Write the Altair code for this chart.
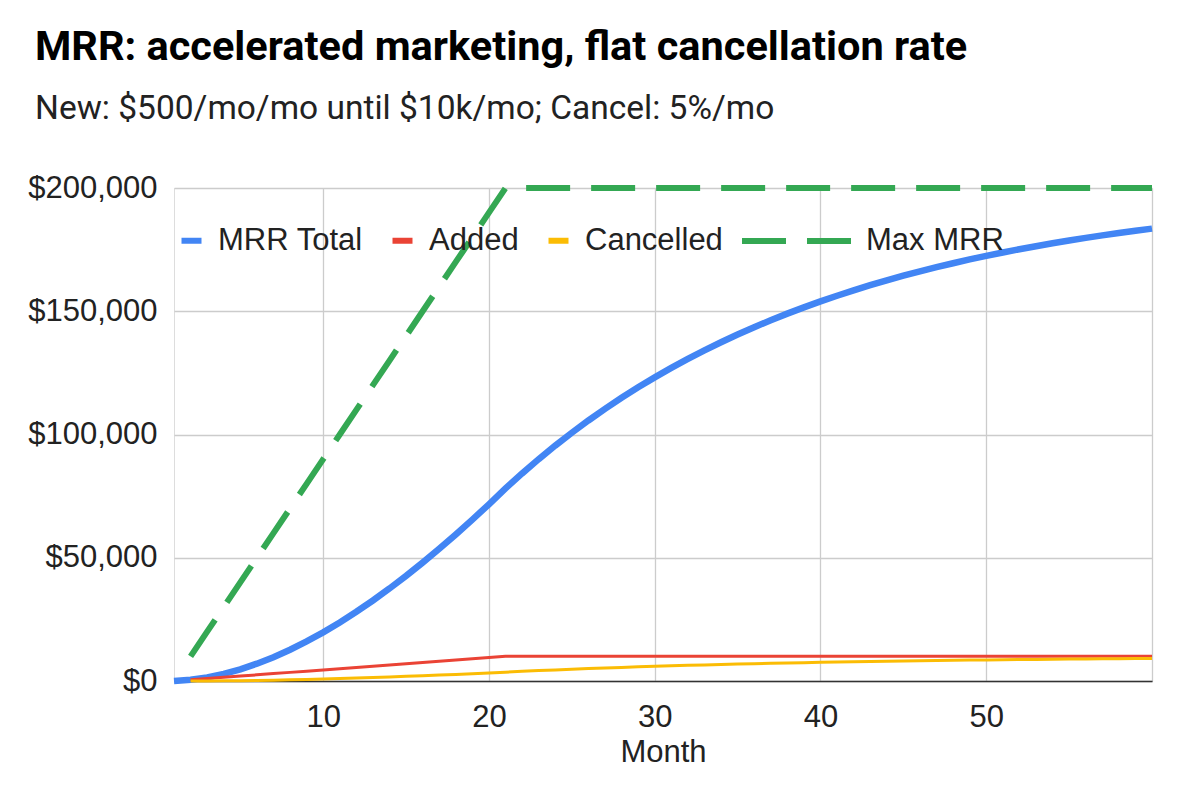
import altair as alt
import pandas as pd

months = list(range(1, 61))

mrr_total = [0, 500, 1475, 2901, 4756, 7018, 9667, 12684, 16050, 19747,
             23760, 28072, 32668, 37535, 42658, 48025, 53624, 59443, 65471, 71697,
             78112, 84207, 89996, 95497, 100722, 105686, 110401, 114881, 119137, 123180,
             127021, 130670, 134137, 137430, 140558, 143531, 146354, 149036, 151584, 154005,
             156305, 158490, 160565, 162537, 164410, 166190, 167880, 169486, 171012, 172461,
             173838, 175146, 176389, 177570, 178691, 179756, 180769, 181730, 182644, 183512]

added = [None, 500, 1000, 1500, 2000, 2500, 3000, 3500, 4000, 4500,
         5000, 5500, 6000, 6500, 7000, 7500, 8000, 8500, 9000, 9500,
         10000, 10000, 10000, 10000, 10000, 10000, 10000, 10000, 10000, 10000,
         10000, 10000, 10000, 10000, 10000, 10000, 10000, 10000, 10000, 10000,
         10000, 10000, 10000, 10000, 10000, 10000, 10000, 10000, 10000, 10000,
         10000, 10000, 10000, 10000, 10000, 10000, 10000, 10000, 10000, 10000]

cancelled = [None, 0, 25, 74, 145, 238, 351, 483, 634, 802,
             987, 1188, 1404, 1633, 1877, 2133, 2401, 2681, 2972, 3274,
             3585, 3906, 4210, 4500, 4775, 5036, 5284, 5520, 5744, 5957,
             6159, 6351, 6534, 6707, 6872, 7028, 7177, 7318, 7452, 7579,
             7700, 7815, 7924, 8028, 8127, 8221, 8309, 8394, 8474, 8551,
             8623, 8692, 8757, 8819, 8878, 8935, 8988, 9038, 9087, 9132]

max_mrr = [None, 10000, 20000, 30000, 40000, 50000, 60000, 70000, 80000, 90000,
           100000, 110000, 120000, 130000, 140000, 150000, 160000, 170000, 180000, 190000,
           200000, 200000, 200000, 200000, 200000, 200000, 200000, 200000, 200000, 200000,
           200000, 200000, 200000, 200000, 200000, 200000, 200000, 200000, 200000, 200000,
           200000, 200000, 200000, 200000, 200000, 200000, 200000, 200000, 200000, 200000,
           200000, 200000, 200000, 200000, 200000, 200000, 200000, 200000, 200000, 200000]

series_names = ["MRR Total", "Added", "Cancelled"]
series_colors = ["#4285f4", "#ea4335", "#fbbc04"]
series_widths = [6.5, 3, 3]

rows = []
for name, vals in zip(series_names, [mrr_total, added, cancelled]):
    for m, v in zip(months, vals):
        if v is not None:
            rows.append({"month": m, "series": name, "value": v})
df = pd.DataFrame(rows)

max_rows = [{"month": m, "series_max": "Max MRR", "value": v}
            for m, v in zip(months, max_mrr) if v is not None]
dfm = pd.DataFrame(max_rows)

LABEL_FONT = "Liberation Sans"
FS = 31

x_enc = alt.X(
    "month:Q",
    scale=alt.Scale(domain=[1, 60], nice=False, zero=False),
    axis=alt.Axis(
        values=[10, 20, 30, 40, 50, 60],
        labelExpr="datum.value == 60 ? '' : datum.label",
        title="Month",
        grid=True, gridColor="#cccccc", gridWidth=1.3,
        ticks=False, tickSize=0,
        domain=True, domainColor="#333333", domainWidth=1.6,
        labelFont=LABEL_FONT, labelFontSize=FS, labelColor="#222222",
        labelPadding=21,
        titleFont=LABEL_FONT, titleFontSize=FS, titleFontWeight="normal",
        titleColor="#222222", titlePadding=5,
    ),
)
y_enc = alt.Y(
    "value:Q",
    scale=alt.Scale(domain=[0, 200000], nice=False),
    axis=alt.Axis(
        values=[0, 50000, 100000, 150000, 200000],
        format="$,.0f",
        title=None,
        grid=True, gridColor="#cccccc", gridWidth=1.3,
        ticks=False, tickSize=0, domain=False,
        labelFont=LABEL_FONT, labelFontSize=FS, labelColor="#222222",
        labelPadding=17,
    ),
)

color_enc = alt.Color(
    "series:N",
    scale=alt.Scale(domain=series_names, range=series_colors),
    legend=alt.Legend(
        orient="none", legendX=2, legendY=37, direction="horizontal",
        title=None, symbolType="stroke", symbolSize=400, symbolStrokeWidth=6,
        labelFont=LABEL_FONT, labelFontSize=FS, labelColor="#222222",
        labelOffset=11, columnPadding=17,
    ),
)

layers = [
    alt.Chart(df).transform_filter(alt.datum.series == n)
    .mark_line(strokeCap="butt", strokeWidth=w)
    .encode(x=x_enc, y=y_enc, color=color_enc)
    for n, w in zip(series_names, series_widths)
]

green = alt.Chart(dfm).mark_line(strokeCap="butt", strokeWidth=6, color="#34a853").encode(
    x=x_enc, y=y_enc,
    strokeDash=alt.StrokeDash(
        "series_max:N",
        scale=alt.Scale(domain=["Max MRR"], range=[[44, 21]]),
        legend=alt.Legend(
            orient="none", legendX=565, legendY=-5, direction="horizontal",
            title=None, symbolType="stroke", symbolSize=12100, symbolStrokeWidth=6,
            symbolStrokeColor="#34a853",
            labelFont=LABEL_FONT, labelFontSize=FS, labelColor="#222222",
            labelOffset=11,
        ),
    ),
)

chart = alt.layer(*layers, green).properties(
    width=978, height=493,
    padding={"left": 174, "top": 188, "right": 31, "bottom": 115},
    autosize=alt.AutoSizeParams(type="none"),
    title=alt.TitleParams(
        text="MRR: accelerated marketing, flat cancellation rate",
        subtitle="New: $500/mo/mo until $10k/mo; Cancel: 5%/mo",
        anchor="start", frame="group", dx=-139, offset=47,
        font="Roboto", fontSize=41.5, fontWeight="bold", color="#000000",
        subtitleFont="Roboto", subtitleFontSize=33.5, subtitleColor="#222222",
        subtitlePadding=24,
    ),
).configure_view(stroke=None).configure(background="white")

chart.save("out.html", embed_options={"renderer": "svg", "actions": False})
